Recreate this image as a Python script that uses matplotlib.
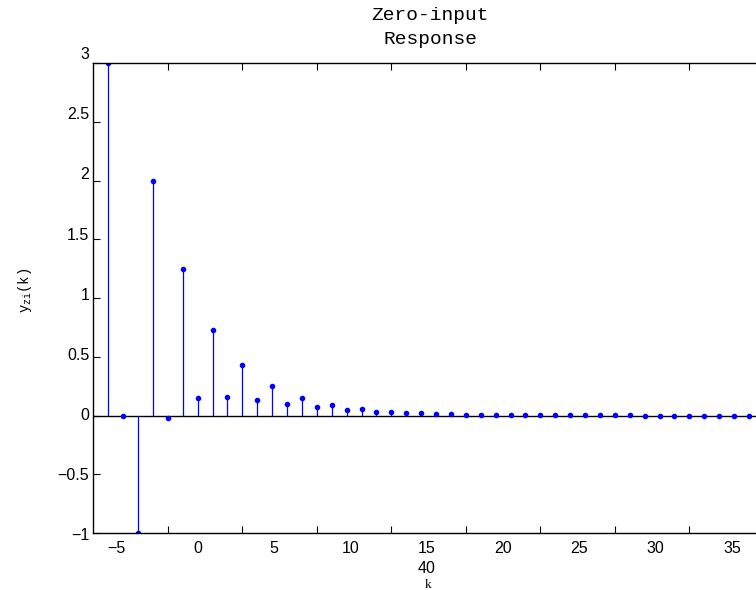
import numpy as np
import matplotlib
matplotlib.use("Agg")
import matplotlib.pyplot as plt
import matplotlib.transforms as mtransforms

# zero-input response values
k = np.arange(-6, 38)
y_zi = [3.0, 0.0, -1.0, 2.0, -0.02, 1.25, 0.15, 0.73, 0.16, 0.43,
        0.13, 0.25, 0.10, 0.15, 0.072, 0.092, 0.05, 0.057, 0.033, 0.033,
        0.022, 0.021, 0.014, 0.012, 0.008, 0.007, 0.005, 0.004, 0.003, 0.003,
        0.002, 0.002, 0.001, 0.001, 0.001, 0.001, 0.0, 0.0, 0.0, 0.0,
        0.0, 0.0, 0.0, 0.0]

xtick_labels = [-5, 0, 5, 10, 15, 20, 25, 30, 35]
ytick_labels = [-1, -0.5, 0, 0.5, 1, 1.5, 2, 2.5, 3]
xtick_marks = [-2, 3, 8, 13, 18, 23, 28, 33, 38]
ytick_marks = [-1, -0.5, 0, 0.5, 1, 1.5, 2, 2.5, 3]

blue = (0, 0, 1)
lab_font = "Liberation Sans"
mono = "Liberation Mono"

fig = plt.figure(figsize=(7.56, 5.90), dpi=100)
ax = fig.add_axes([93.3 / 756, 57 / 590, 670.5 / 756, 469.7 / 590])

ml, sl, bl = ax.stem(k, y_zi, basefmt=" ")
plt.setp(sl, color=blue, linewidth=0.9)
plt.setp(ml, color=blue, markersize=3.0)
ax.axhline(0, color="k", linewidth=1.0, zorder=1)

ax.set_xlim(-7, 38)
ax.set_ylim(-1, 3)

ax.set_xticks(xtick_marks)
ax.set_yticks(ytick_marks)
ax.set_xticklabels([])
ax.set_yticklabels([])
ax.tick_params(direction="in", length=5, width=0.8, top=True, right=False)
for s in ["left", "bottom", "top"]:
    ax.spines[s].set_linewidth(1.0)
ax.spines["right"].set_visible(False)

# tick labels (MATLAB-style, slightly offset from the tick marks)
sc = 1.025
xt = mtransforms.blended_transform_factory(ax.transData, ax.transAxes)
for v in xtick_labels:
    xp = v * sc - (0.33 if v < 0 else 0)
    txt = str(v).replace("-", "\u2212")
    ax.text(xp, -0.018, txt, transform=xt, ha="center", va="top",
            fontsize=11.5, family=lab_font, clip_on=False)
yt = mtransforms.blended_transform_factory(ax.transAxes, ax.transData)
for v in ytick_labels:
    txt = ("%g" % v).replace("-", "\u2212")
    ax.text(-0.006, v * sc, txt, transform=yt, ha="right", va="center",
            fontsize=11.5, family=lab_font, clip_on=False)

# stray label under 15
ax.text(15 * sc, -0.075, "40", transform=xt, ha="center", va="center",
        fontsize=11.5, family=lab_font, clip_on=False)

fig.text(428 / 756, 1 - 584.5 / 590, "k", ha="center", va="center",
         fontsize=9.5, family="Liberation Serif")
fig.text(25 / 756, 1 - 290 / 590, r"y$_{\mathregular{zi}}$(k)", rotation=90,
         ha="center", va="center", fontsize=10, family=mono)
fig.text(430 / 756, 1 - 15 / 590, "Zero-input", ha="center", va="center",
         fontsize=14, family=mono)
fig.text(430 / 756, 1 - 40 / 590, "Response", ha="center", va="center",
         fontsize=14, family=mono)

fig.savefig("out.png", dpi=100)
